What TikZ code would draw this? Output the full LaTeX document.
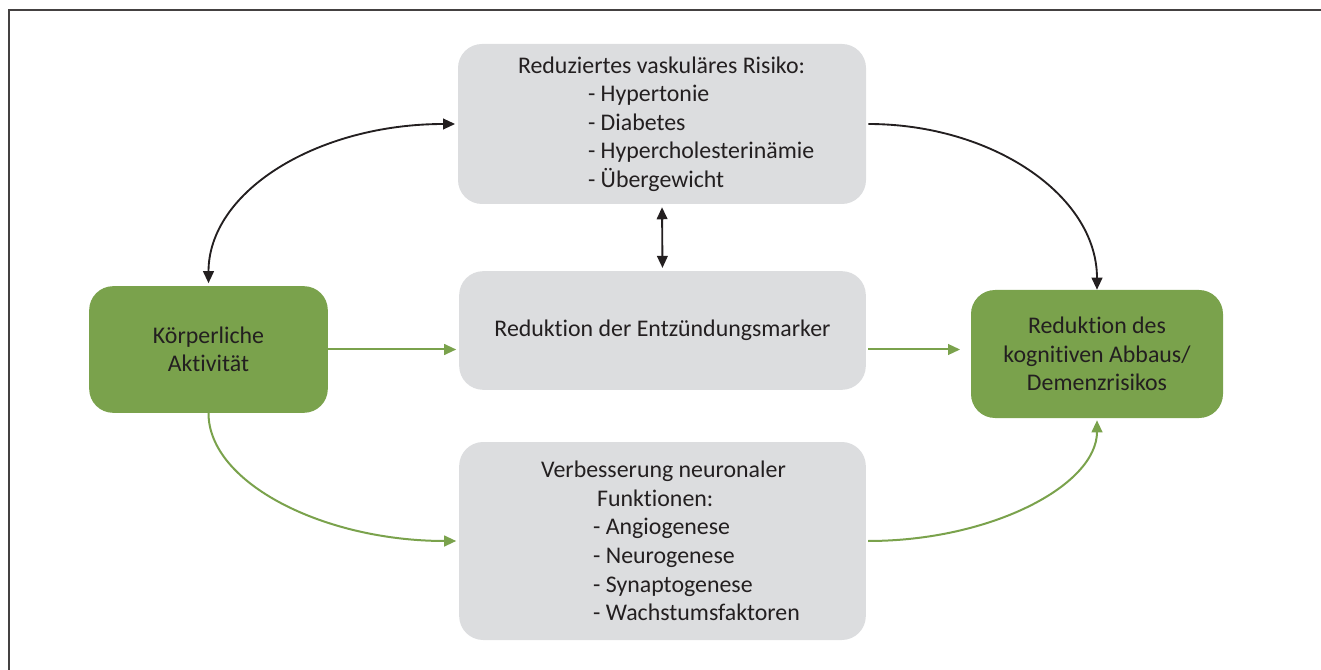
\documentclass[tikz,border=0pt]{standalone}
\usepackage{fontspec}
\setmainfont{Carlito}[Ligatures=NoCommon]
\usepackage{tikz}
\usetikzlibrary{arrows.meta}
\definecolor{boxgrey}{RGB}{220,221,223}
\definecolor{boxgreen}{RGB}{122,162,76}
\definecolor{ink}{RGB}{35,31,32}
\newcommand{\zeile}[3][0pt]{\makebox[#2][l]{\hspace*{#1}#3}}
\tikzstyle{card}=[rounded corners=18pt, inner sep=0pt, text=ink, align=center, font=\fontsize{17.9pt}{21.4pt}\selectfont]
\tikzstyle{greycard}=[card, fill=boxgrey]
\tikzstyle{greencard}=[card, fill=boxgreen]
\tikzstyle{blk}=[draw=ink, line width=1.4pt]
\tikzstyle{grn}=[draw=boxgreen, line width=1.5pt]

\begin{document}
\begin{tikzpicture}[x=0.75pt, y=-0.75pt, >={Triangle[length=9pt,width=8pt]}]
        \useasboundingbox (0,0) rectangle (1321,670);
        \draw[draw=ink!85, line width=1.5pt] (9,670) -- (9,10) -- (1321,10);
        \node[greycard, minimum width=306pt, minimum height=120pt] (R) at (662,124) {%
            \zeile{216pt}{Reduziertes vaskuläres Risiko:}\\
            \zeile[52.5pt]{216pt}{- Hypertonie}\\
            \zeile[52.5pt]{216pt}{- Diabetes}\\
            \zeile[52.5pt]{216pt}{- Hypercholesterinämie}\\
            \zeile[52.5pt]{216pt}{- Übergewicht}};
        \node[greycard, minimum width=305pt, minimum height=89pt] (E) at (662.5,330.5) {Reduktion der Entzündungsmarker};
        \node[greycard, minimum width=305pt, minimum height=148.5pt] (N) at (662.5,541) {%
            \zeile{182pt}{Verbesserung neuronaler}\\
            \zeile[42pt]{182pt}{Funktionen:}\\
            \zeile[39pt]{182pt}{- Angiogenese}\\
            \zeile[39pt]{182pt}{- Neurogenese}\\
            \zeile[39pt]{182pt}{- Synaptogenese}\\
            \zeile[39pt]{182pt}{- Wachstumsfaktoren}};
        \node[greencard, minimum width=179pt, minimum height=95pt] (K) at (208.5,349.5) {Körperliche\\Aktivität};
        \node[greencard, minimum width=189pt, minimum height=96pt] (D) at (1097,354) {Reduktion des\\kognitiven Abbaus/\\Demenzrisikos};
        \draw[blk, <->, shorten <=2pt, shorten >=2pt] (K.north) .. controls +(0,-95) and +(-140,0) .. (R.west);
        \draw[blk, ->, shorten <=1.5pt] (R.east) .. controls +(125,0) and +(0,-95) .. (D.north);
        \draw[blk, <->, shorten <=2.25pt, shorten >=2.25pt] (R.south) -- (E.north);
        \draw[grn, ->, shorten >=2pt] (K.east) -- (K.east -| E.west);
        \draw[grn, ->, shorten <=1.5pt, shorten >=8pt] (E.east |- K.east) -- (D.west |- K.east);
        \draw[grn, ->, shorten >=2pt] (K.south) .. controls +(0,70) and +(-135,0) .. (N.west);
        \draw[grn, ->, shorten <=1.5pt, shorten >=1.5pt] (N.east) .. controls +(125,0) and +(0,67) .. (D.south);
    \end{tikzpicture}
\end{document}
